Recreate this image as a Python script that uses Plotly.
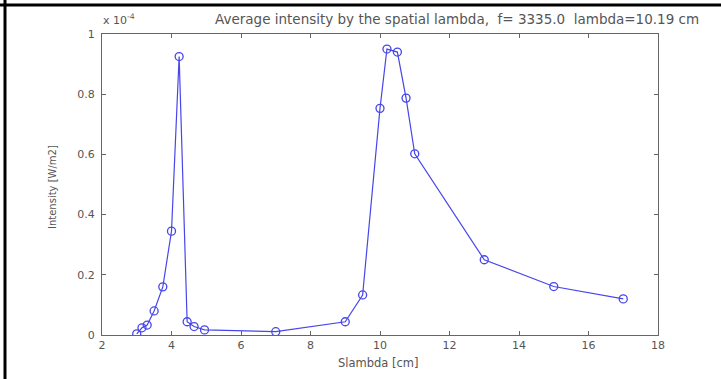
import plotly.graph_objects as go

# Spatial wavelength samples [cm] and average intensity [x 1e-4 W/m2]
slambda_cm = [3.0, 3.15, 3.3, 3.5, 3.75, 4.0, 4.22, 4.45, 4.65, 4.95, 7.0,
              9.0, 9.5, 10.0, 10.2, 10.5, 10.75, 11.0, 13.0, 15.0, 17.0]
intensity_e4 = [0.004, 0.024, 0.033, 0.08, 0.16, 0.345, 0.925, 0.044, 0.028, 0.017, 0.011,
                0.044, 0.133, 0.753, 0.95, 0.94, 0.787, 0.602, 0.25, 0.161, 0.12]

x_ticks = [2, 4, 6, 8, 10, 12, 14, 16, 18]
y_ticks = [0, 0.2, 0.4, 0.6, 0.8, 1]
y_tick_text = ["0", "0.2", "0.4", "0.6", "0.8", "1"]

title_text = "Average intensity by the spatial lambda,  f= 3335.0  lambda=10.19 cm"
x_title = "Slambda [cm]"
y_title = "Intensity [W/m2]"

W, H = 721, 379
L, R, T, B = 102, 63, 34, 44
pw, ph = W - L - R, H - T - B

def px(x):
    return (x - L) / pw

def py(y):
    return (H - B - y) / ph

family = "DejaVu Sans, Verdana, sans-serif"
grey = "#555555"
tick_font = dict(family=family, size=11, color=grey)
blue = "rgb(70,70,235)"

fig = go.Figure()
fig.add_trace(go.Scatter(
    x=slambda_cm, y=intensity_e4, mode="lines+markers",
    line=dict(color=blue, width=1.2),
    marker=dict(symbol="circle-open", size=8, color=blue, line=dict(width=1.3)),
    showlegend=False,
))

axis_common = dict(
    showgrid=False, zeroline=False, showline=True, linecolor="#666666", linewidth=1.3,
    mirror="ticks", ticks="inside", ticklen=4, tickcolor="#666666", tickwidth=1,
    tickfont=tick_font,
)
fig.update_xaxes(range=[2, 18], tickvals=x_ticks, ticktext=[str(v) for v in x_ticks],
                 **axis_common)
fig.update_yaxes(range=[0, 1], tickvals=y_ticks, ticktext=y_tick_text,
                 ticklabelstandoff=4, **axis_common)

fig.update_layout(
    width=W, height=H,
    margin=dict(l=L, r=R, t=T, b=B, pad=0),
    paper_bgcolor="white", plot_bgcolor="white",
    font=tick_font,
    annotations=[
        dict(text=title_text, x=px(457), y=py(19), xref="paper", yref="paper",
             showarrow=False, xanchor="center", yanchor="middle",
             font=dict(family=family, size=13.5, color=grey)),
        dict(text="x 10<sup>-4</sup>", x=px(101), y=py(20), xref="paper", yref="paper",
             showarrow=False, xanchor="left", yanchor="middle",
             font=dict(family=family, size=11, color=grey)),
        dict(text=x_title, x=px(378), y=py(363), xref="paper", yref="paper",
             showarrow=False, xanchor="center", yanchor="middle",
             font=dict(family=family, size=11.5, color=grey)),
        dict(text=y_title, x=px(52), y=py(187), xref="paper", yref="paper",
             showarrow=False, textangle=-90, xanchor="center", yanchor="middle",
             font=dict(family=family, size=10, color=grey)),
    ],
    shapes=[
        dict(type="line", xref="paper", yref="paper", x0=px(0), x1=px(W), y0=py(5), y1=py(5),
             line=dict(color="black", width=3)),
        dict(type="line", xref="paper", yref="paper", x0=px(5), x1=px(5), y0=py(0), y1=py(H),
             line=dict(color="black", width=3)),
    ],
)

fig.write_html("out.html")
